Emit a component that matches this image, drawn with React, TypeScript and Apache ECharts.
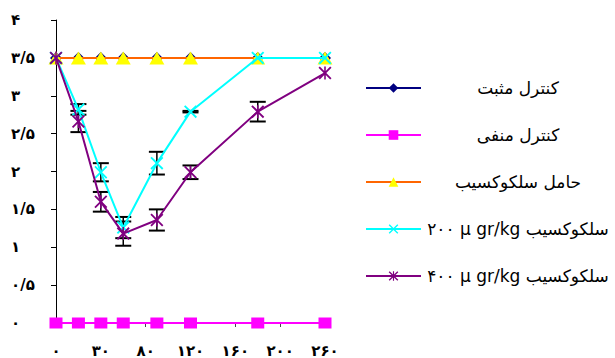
import React, { useEffect, useRef } from "react";
import * as echarts from "echarts";

const xValues = [0, 20, 40, 60, 90, 120, 180, 240];
const xTickLabels = ["۰", "۳۰", "۸۰", "۱۲۰", "۱۶۰", "۲۰۰", "۲۶۰"];
const yTickLabels = ["۰", "۰/۵", "۱", "۱/۵", "۲", "۲/۵", "۳", "۳/۵", "۴"];

const seriesNames = [
  "کنترل مثبت",
  "کنترل منفی",
  "حامل سلکوکسیب",
  "۲۰۰ µ gr/kg سلکوکسیب",
  "۴۰۰ µ gr/kg سلکوکسیب",
];

const positiveControl = [3.5, 3.5, 3.5, 3.5, 3.5, 3.5, 3.5, 3.5];
const negativeControl = [0, 0, 0, 0, 0, 0, 0, 0];
const vehicle = [3.5, 3.5, 3.5, 3.5, 3.5, 3.5, 3.5, 3.5];
const cele200 = [3.5, 2.82, 1.99, 1.26, 2.11, 2.79, 3.5, 3.5];
const cele200Err = [0, 0.07, 0.12, 0.14, 0.15, 0.01, 0, 0];
const cele400 = [3.5, 2.66, 1.6, 1.18, 1.36, 1.99, 2.79, 3.3];
const cele400Err = [0, 0.14, 0.13, 0.16, 0.14, 0.09, 0.13, 0];

const FONT = "DejaVu Sans";

const xPath =
  "path://M0,1 L1,0 L5,4 L9,0 L10,1 L6,5 L10,9 L9,10 L5,6 L1,10 L0,9 L4,5 Z";
const starPath =
  "path://M0,1 L1,0 L5,4 L9,0 L10,1 L6,5 L10,9 L9,10 L5,6 L1,10 L0,9 L4,5 Z M4.4,0 L5.6,0 L5.6,10 L4.4,10 Z";

function pairs(vals: number[]) {
  return xValues.map((x, i) => [x, vals[i]]);
}

function errData(vals: number[], errs: number[]) {
  const out: number[][] = [];
  xValues.forEach((x, i) => {
    if (errs[i] > 0) out.push([x, vals[i] - errs[i], vals[i] + errs[i]]);
  });
  return out;
}

function renderErr(params: any, api: any) {
  const x = api.value(0);
  const lo = api.coord([x, api.value(1)]);
  const hi = api.coord([x, api.value(2)]);
  const half = 8;
  const st = { stroke: "#000", lineWidth: 2 };
  return {
    type: "group",
    children: [
      { type: "line", shape: { x1: lo[0], y1: lo[1], x2: hi[0], y2: hi[1] }, style: { stroke: "#000", lineWidth: 1.5 } },
      { type: "line", shape: { x1: lo[0] - half, y1: lo[1], x2: lo[0] + half, y2: lo[1] }, style: st },
      { type: "line", shape: { x1: hi[0] - half, y1: hi[1], x2: hi[0] + half, y2: hi[1] }, style: st },
    ],
  };
}

export default function App() {
  const ref = useRef<HTMLDivElement>(null);
  useEffect(() => {
    if (!ref.current) return;
    const chart = echarts.init(ref.current, undefined, { renderer: "svg" });
    chart.setOption({
      animation: false,
      backgroundColor: "#fff",
      grid: { left: 56, right: 290, top: 20, bottom: 35 },
      xAxis: {
        type: "value",
        min: 0,
        max: 240,
        interval: 40,
        splitLine: { show: false },
        axisLine: { show: true, lineStyle: { color: "#000", width: 1 } },
        axisTick: { show: true, length: 4, lineStyle: { color: "#444" } },
        axisLabel: {
          margin: 20,
          color: "#000",
          fontFamily: FONT,
          fontWeight: "bold",
          fontSize: 15,
          formatter: (v: number) => xTickLabels[Math.round(v / 40)] ?? "",
        },
      },
      yAxis: {
        type: "value",
        min: 0,
        max: 4,
        interval: 0.5,
        splitLine: { show: false },
        axisLine: { show: true, lineStyle: { color: "#000", width: 1 } },
        axisTick: { show: true, length: 5, lineStyle: { color: "#000" } },
        axisLabel: {
          margin: 45,
          align: "left",
          color: "#000",
          fontFamily: FONT,
          fontWeight: "bold",
          fontSize: 15,
          formatter: (v: number) => yTickLabels[Math.round(v / 0.5)] ?? "",
        },
      },
      legend: {
        data: seriesNames,
        orient: "vertical",
        left: 365,
        top: 79,
        padding: 0,
        itemWidth: 55,
        itemHeight: 12,
        itemGap: 29,
        selectedMode: false,
        formatter: (name: string) => `{t|${name}}`,
        textStyle: {
          color: "#000",
          rich: {
            t: {
              width: 184,
              align: "center",
              fontSize: 17,
              fontFamily: FONT,
              color: "#000",
              height: 18,
              lineHeight: 18,
            },
          },
        },
      },
      series: [
        {
          type: "custom",
          name: "err200",
          renderItem: renderErr,
          encode: { x: 0, y: [1, 2] },
          data: errData(cele200, cele200Err),
          z: 1,
        },
        {
          type: "custom",
          name: "err400",
          renderItem: renderErr,
          encode: { x: 0, y: [1, 2] },
          data: errData(cele400, cele400Err),
          z: 1,
        },
        {
          type: "line",
          name: seriesNames[0],
          data: pairs(positiveControl),
          symbol: "diamond",
          symbolSize: [12, 12],
          itemStyle: { color: "#000080" },
          lineStyle: { color: "#000080", width: 2 },
          z: 2,
        },
        {
          type: "line",
          name: seriesNames[1],
          data: pairs(negativeControl),
          symbol: "rect",
          symbolSize: [13, 11],
          itemStyle: { color: "#FF00FF" },
          lineStyle: { color: "#FF00FF", width: 2 },
          z: 2,
        },
        {
          type: "line",
          name: seriesNames[2],
          data: pairs(vehicle),
          symbol: "triangle",
          symbolSize: [15, 13],
          itemStyle: { color: "#FFFF00" },
          lineStyle: { color: "#FF6600", width: 2 },
          z: 3,
        },
        {
          type: "line",
          name: seriesNames[3],
          data: pairs(cele200),
          symbol: xPath,
          symbolSize: [13, 13],
          itemStyle: { color: "#00FFFF" },
          lineStyle: { color: "#00FFFF", width: 2 },
          z: 4,
        },
        {
          type: "line",
          name: seriesNames[4],
          data: pairs(cele400),
          symbol: starPath,
          symbolSize: [13, 13],
          itemStyle: { color: "#800080" },
          lineStyle: { color: "#800080", width: 2 },
          z: 5,
        },
      ],
    });
    return () => chart.dispose();
  }, []);
  return (
    <div
      ref={ref}
      style={{ position: "fixed", left: 0, top: 0, width: 615, height: 358 }}
    />
  );
}
